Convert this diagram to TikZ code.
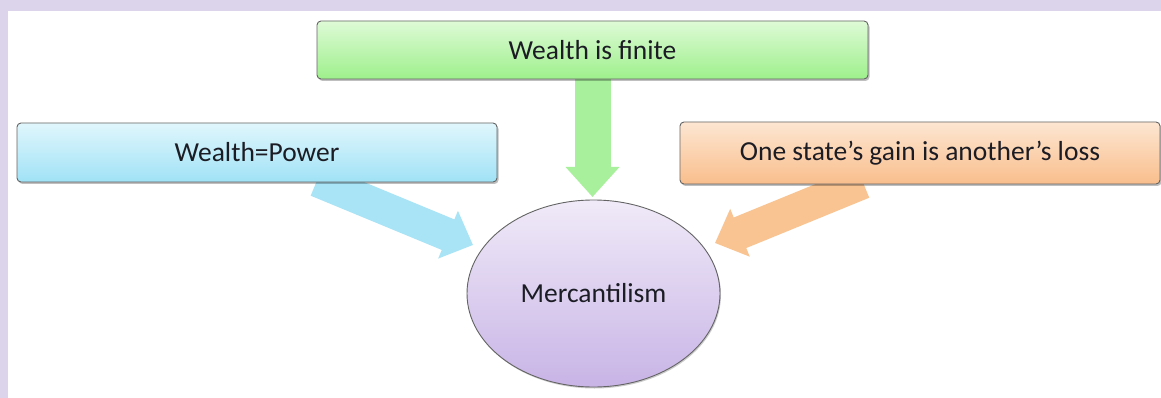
\documentclass[tikz,border=0pt]{standalone}
\usepackage{fontspec}
\setmainfont{Carlito}
\usetikzlibrary{arrows.meta,shapes.geometric,shadows}
\definecolor{lav}{RGB}{220,212,234}
\definecolor{bluetop}{RGB}{224,246,252}
\definecolor{bluebot}{RGB}{160,226,246}
\definecolor{greentop}{RGB}{222,250,214}
\definecolor{greenbot}{RGB}{158,240,140}
\definecolor{orangetop}{RGB}{253,230,210}
\definecolor{orangebot}{RGB}{249,190,140}
\definecolor{purptop}{RGB}{240,234,248}
\definecolor{purpbot}{RGB}{200,180,230}
\definecolor{bluearr}{RGB}{168,228,246}
\definecolor{greenarr}{RGB}{168,240,155}
\definecolor{orangearr}{RGB}{249,196,146}
\definecolor{edge}{RGB}{100,100,100}
\definecolor{ink}{RGB}{28,28,36}
\pgfdeclarelayer{bg}
\pgfdeclarelayer{arrows}
\pgfsetlayers{bg,arrows,main}
\tikzset{
  box/.style={draw=edge, line width=0.9pt, rounded corners=4pt, text=ink,
    font=\fontsize{27.5}{32}\selectfont, inner sep=0pt,
    drop shadow={shadow xshift=1.5pt, shadow yshift=-2pt, opacity=0.25, fill=black}},
  oval/.style={ellipse, draw=edge, line width=0.9pt, text=ink,
    font=\fontsize{27.5}{32}\selectfont, inner sep=0pt,
    top color=purptop, bottom color=purpbot,
    drop shadow={shadow xshift=1pt, shadow yshift=-1.5pt, opacity=0.2, fill=black}},
  fat/.style={line width=#1, line cap=butt},
}
\begin{document}
\begin{tikzpicture}[x=1pt,y=-1pt]
\useasboundingbox (0,0) rectangle (1161,398);
\begin{pgfonlayer}{bg}
  \fill[white] (0,0) rectangle (1161,398);
  \fill[lav] (0,0) rectangle (1161,11);
  \fill[lav] (0,0) rectangle (8,398);
\end{pgfonlayer}

\node[box, top color=greentop, bottom color=greenbot, minimum width=551pt, minimum height=58pt]
  (finite) at (592.5,50) {Wealth is finite};
\node[box, top color=bluetop, bottom color=bluebot, minimum width=480pt, minimum height=59pt]
  (power) at (257,152.5) {Wealth=Power};
\node[box, top color=orangetop, bottom color=orangebot, minimum width=480pt, minimum height=62pt]
  (gain) at (920,153) {One state’s gain is another’s loss};
\node[oval, minimum width=253pt, minimum height=187pt] (merc) at (593.5,293.5) {Mercantilism};

\coordinate (tipA) at (473,245);
\coordinate (tipB) at (592.5,197);
\coordinate (tipC) at (715,243);

\begin{pgfonlayer}{arrows}
  \draw[fat=33pt, draw=bluearr, -{Triangle[length=27pt,width=50pt]}]
    ([xshift=60pt,yshift=2pt]power.south) -- (tipA);
  \draw[fat=36pt, draw=greenarr, -{Triangle[length=30pt,width=52pt]}]
    ([yshift=2pt]finite.south) -- (tipB);
  \draw[fat=33pt, draw=orangearr, -{Triangle[length=27pt,width=50pt]}]
    ([xshift=-57pt,yshift=2pt]gain.south) -- (tipC);
\end{pgfonlayer}
\end{tikzpicture}
\end{document}
